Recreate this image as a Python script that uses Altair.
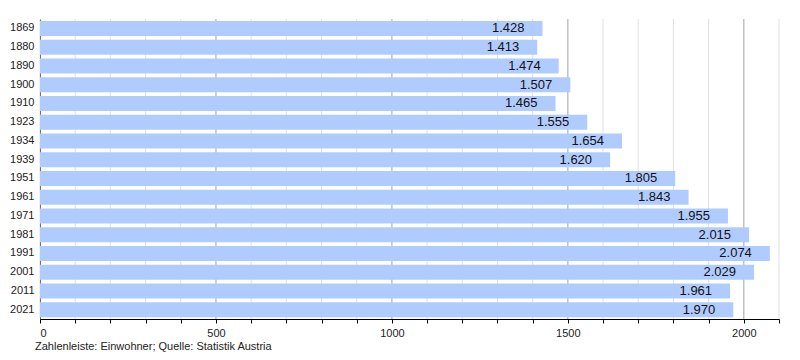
import altair as alt
import pandas as pd

years = ["1869", "1880", "1890", "1900", "1910", "1923", "1934", "1939",
         "1951", "1961", "1971", "1981", "1991", "2001", "2011", "2021"]
population = [1428, 1413, 1474, 1507, 1465, 1555, 1654, 1620,
              1805, 1843, 1955, 2015, 2074, 2029, 1961, 1970]
minor_grid = list(range(0, 2101, 100))
major_grid = [500, 1000, 1500, 2000]

df = pd.DataFrame({"year": years, "pop": population})
df["label"] = [f"{v:,}".replace(",", ".") for v in population]
minor_df = pd.DataFrame({"v": minor_grid})
major_df = pd.DataFrame({"v": major_grid})

FONT = "Liberation Sans"
xscale = alt.Scale(domain=[0, 2100], nice=False, zero=True)

xaxis = alt.Axis(
    values=minor_grid,
    labelExpr="datum.value % 500 == 0 ? datum.value : ''",
    labelOverlap=False,
    grid=False, tickSize=4, tickColor="black", domainColor="black",
    labelFont=FONT, labelFontSize=11, labelColor="#222", labelPadding=4,
    title=None,
)

minor = alt.Chart(minor_df).mark_rule(color="#e0e0e0", strokeWidth=1).encode(
    x=alt.X("v:Q", scale=xscale, axis=xaxis)
)
major = alt.Chart(major_df).mark_rule(color="#b0b0b0", strokeWidth=1).encode(
    x=alt.X("v:Q", scale=xscale, axis=xaxis)
)

base = alt.Chart(df).encode(
    y=alt.Y("year:N", sort=years, title=None,
            scale=alt.Scale(paddingInner=0.2, paddingOuter=0.1),
            axis=alt.Axis(ticks=False, domainColor="black", labelFont=FONT,
                          labelFontSize=11, labelColor="#222", labelPadding=6)),
)
bars = base.mark_bar(color="#b0ccff").encode(
    x=alt.X("pop:Q", scale=xscale, axis=xaxis)
)
texts = base.mark_text(align="right", baseline="middle", dx=-18, font=FONT,
                       fontSize=13, color="#111").encode(
    x=alt.X("pop:Q", scale=xscale, axis=xaxis), text="label:N"
)

chart = alt.layer(minor, major, bars, texts).properties(
    width=739, height=300,
    autosize=alt.AutoSizeParams(type="none"),
    padding={"left": 32, "top": 11, "right": 10, "bottom": 33},
    title=alt.TitleParams(
        "Zahlenleiste: Einwohner; Quelle: Statistik Austria",
        orient="bottom", anchor="start", frame="group", dx=-5, offset=3,
        font=FONT, fontSize=11, fontWeight="normal", color="#222",
    ),
).configure_view(stroke=None).configure_axis(grid=False).configure_axisX(labelOverlap=False)

chart.save("out.html", embed_options={"renderer": "svg", "actions": False})
